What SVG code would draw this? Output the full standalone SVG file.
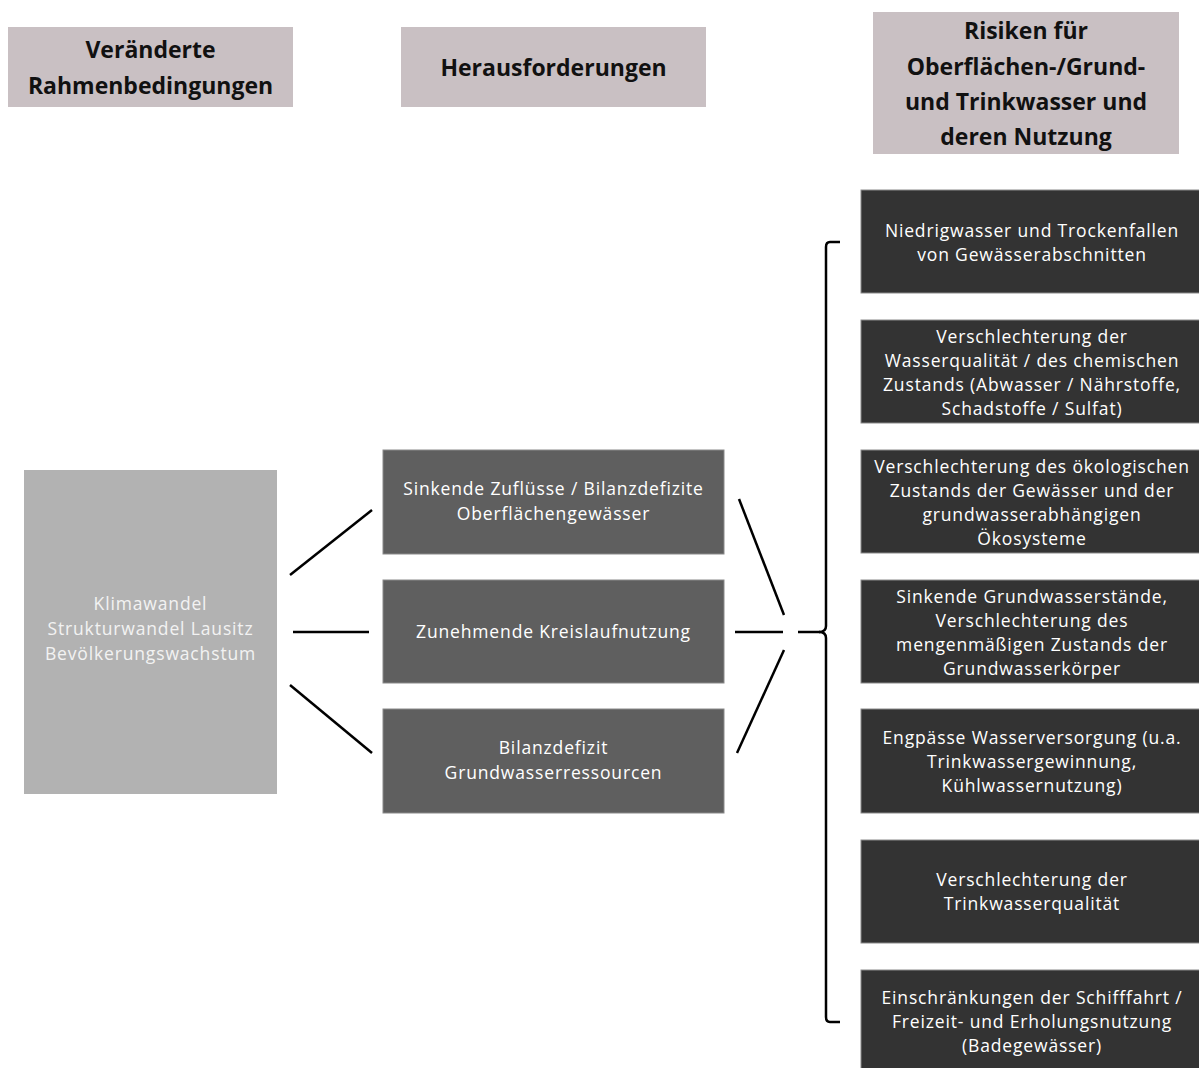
<svg xmlns="http://www.w3.org/2000/svg" width="1199" height="1068" viewBox="0 0 1199 1068">
<style>
.hdr{fill:#c9c0c3}
.hdrt{font-family:"Open Sans","Liberation Sans",sans-serif;font-weight:bold;font-size:23px;fill:#111;text-anchor:middle}
.lb{fill:#b2b2b2}
.mb{fill:#5f5f5f;stroke:#8a8a8a;stroke-width:1}
.rb{fill:#333333;stroke:#8a8a8a;stroke-width:1}
.t{font-family:"Open Sans","Liberation Sans",sans-serif;font-size:17.5px;letter-spacing:0.85px;fill:#ffffff;text-anchor:middle}
.lt{fill:#f2f2f2}
.c{stroke:#000;stroke-width:2.5;fill:none;stroke-linecap:butt}
</style>
<rect width="1199" height="1068" fill="#ffffff"/>
<g id="header-rahmen">
<rect class="hdr" x="8" y="27" width="285" height="80"/>
<text class="hdrt" x="150.5" y="57.5">Veränderte</text>
<text class="hdrt" x="150.5" y="93.5">Rahmenbedingungen</text>
</g>
<g id="header-heraus">
<rect class="hdr" x="401" y="27" width="305" height="80"/>
<text class="hdrt" x="553.5" y="75.5">Herausforderungen</text>
</g>
<g id="header-risiken">
<rect class="hdr" x="873" y="12" width="306" height="142"/>
<text class="hdrt" x="1026" y="39">Risiken für</text>
<text class="hdrt" x="1026" y="74.5">Oberflächen-/Grund-</text>
<text class="hdrt" x="1026" y="110">und Trinkwasser und</text>
<text class="hdrt" x="1026" y="145">deren Nutzung</text>
</g>
<g id="node-rahmen">
<rect class="lb" x="24" y="470" width="253" height="324"/>
<text class="t lt" x="150.5" y="610">Klimawandel</text>
<text class="t lt" x="150.5" y="635">Strukturwandel Lausitz</text>
<text class="t lt" x="150.5" y="660">Bevölkerungswachstum</text>
</g>
<g id="node-zufluesse">
<rect class="mb" x="383" y="450" width="341" height="104"/>
<text class="t" x="553.5" y="495">Sinkende Zuflüsse / Bilanzdefizite</text>
<text class="t" x="553.5" y="520">Oberflächengewässer</text>
</g>
<g id="node-kreislauf">
<rect class="mb" x="383" y="580" width="341" height="103"/>
<text class="t" x="553.5" y="638">Zunehmende Kreislaufnutzung</text>
</g>
<g id="node-grundwasser">
<rect class="mb" x="383" y="709" width="341" height="104"/>
<text class="t" x="553.5" y="754">Bilanzdefizit</text>
<text class="t" x="553.5" y="779">Grundwasserressourcen</text>
</g>
<g id="risk-1">
<rect class="rb" x="861" y="190" width="345" height="103"/>
<text class="t" x="1032" y="237">Niedrigwasser und Trockenfallen</text>
<text class="t" x="1032" y="261">von Gewässerabschnitten</text>
</g>
<g id="risk-2">
<rect class="rb" x="861" y="320" width="345" height="103"/>
<text class="t" x="1032" y="342.5">Verschlechterung der</text>
<text class="t" x="1032" y="366.5">Wasserqualität / des chemischen</text>
<text class="t" x="1032" y="390.5">Zustands (Abwasser / Nährstoffe,</text>
<text class="t" x="1032" y="414.5">Schadstoffe / Sulfat)</text>
</g>
<g id="risk-3">
<rect class="rb" x="861" y="450" width="345" height="103"/>
<text class="t" x="1032" y="472.5">Verschlechterung des ökologischen</text>
<text class="t" x="1032" y="496.5">Zustands der Gewässer und der</text>
<text class="t" x="1032" y="520.5">grundwasserabhängigen</text>
<text class="t" x="1032" y="544.5">Ökosysteme</text>
</g>
<g id="risk-4">
<rect class="rb" x="861" y="580" width="345" height="103"/>
<text class="t" x="1032" y="602.5">Sinkende Grundwasserstände,</text>
<text class="t" x="1032" y="626.5">Verschlechterung des</text>
<text class="t" x="1032" y="650.5">mengenmäßigen Zustands der</text>
<text class="t" x="1032" y="674.5">Grundwasserkörper</text>
</g>
<g id="risk-5">
<rect class="rb" x="861" y="709" width="345" height="104"/>
<text class="t" x="1032" y="744">Engpässe Wasserversorgung (u.a.</text>
<text class="t" x="1032" y="768">Trinkwassergewinnung,</text>
<text class="t" x="1032" y="792">Kühlwassernutzung)</text>
</g>
<g id="risk-6">
<rect class="rb" x="861" y="840" width="345" height="103"/>
<text class="t" x="1032" y="886">Verschlechterung der</text>
<text class="t" x="1032" y="910">Trinkwasserqualität</text>
</g>
<g id="risk-7">
<rect class="rb" x="861" y="970" width="345" height="104"/>
<text class="t" x="1032" y="1004">Einschränkungen der Schifffahrt /</text>
<text class="t" x="1032" y="1028">Freizeit- und Erholungsnutzung</text>
<text class="t" x="1032" y="1052">(Badegewässer)</text>
</g>
<g id="connectors">
<line class="c" x1="290" y1="575" x2="372" y2="510"/>
<line class="c" x1="293" y1="632" x2="369" y2="632"/>
<line class="c" x1="290" y1="685" x2="372" y2="753"/>
<line class="c" x1="739" y1="499" x2="784" y2="615"/>
<line class="c" x1="735" y1="632" x2="783" y2="632"/>
<line class="c" x1="798" y1="632" x2="820" y2="632"/>
<line class="c" x1="784" y1="650" x2="737" y2="753"/>
<path class="c" d="M840,242 L830,242 Q826,242 826,247 L826,626 Q826,632 819,632 Q826,632 826,638 L826,1017 Q826,1022 830,1022 L840,1022"/>
</g>
</svg>
